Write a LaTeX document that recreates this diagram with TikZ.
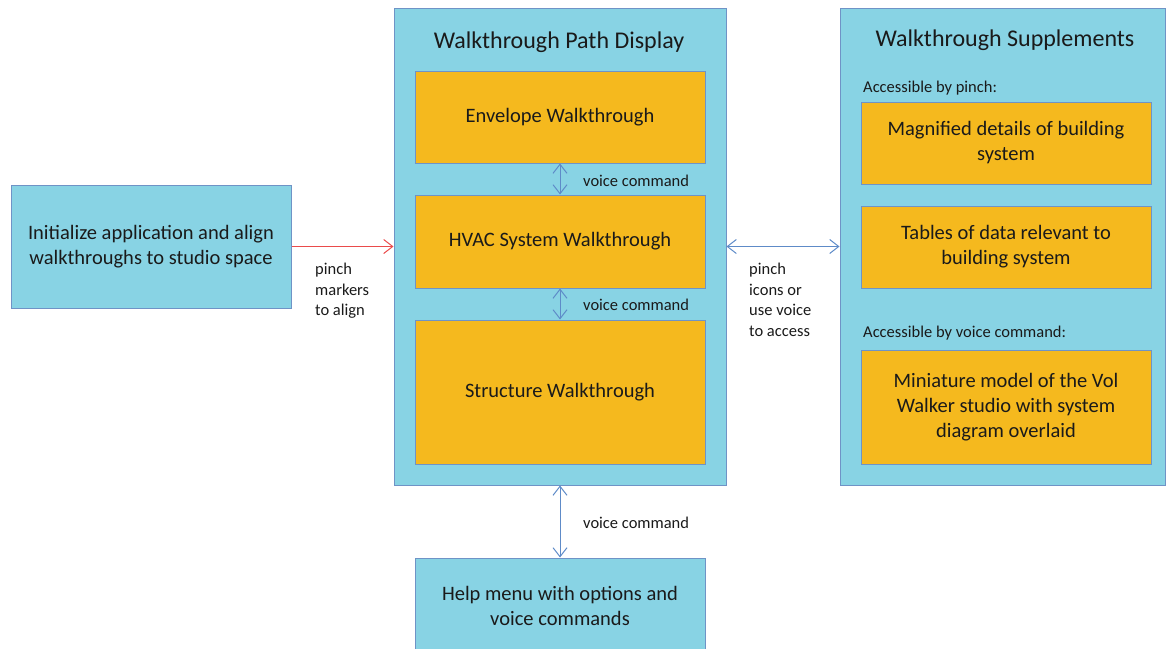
\documentclass[tikz,border=0pt]{standalone}
\usepackage{fontspec}
\setmainfont{Carlito}
\usetikzlibrary{arrows.meta}
\definecolor{lblue}{HTML}{88D3E4}
\definecolor{bborder}{HTML}{6F93C6}
\definecolor{orng}{HTML}{F5B91E}
\definecolor{arrblue}{HTML}{5E8BC8}
\definecolor{arrred}{HTML}{EA4B4B}
\definecolor{txt}{HTML}{1A1A1A}
\tikzset{
  bluebox/.style={draw=bborder, fill=lblue, line width=1pt, rectangle, inner sep=0pt, align=center, text=txt, font=\fontsize{20.5}{25}\selectfont},
  orangebox/.style={draw=bborder, fill=orng, line width=1pt, rectangle, inner sep=0pt, align=center, text=txt, font=\fontsize{20.5}{25}\selectfont},
  lbl/.style={align=left, inner sep=0pt, text=txt, font=\fontsize{16.5}{20.5}\selectfont},
  ttl/.style={inner sep=0pt, text=txt, font=\fontsize{24}{28}\selectfont},
  barrow/.style={draw=arrblue, line width=1pt, {Straight Barb[length=9pt,width=14pt]}-{Straight Barb[length=9pt,width=14pt]}},
  rarrow/.style={draw=arrred, line width=1pt, -{Straight Barb[length=9pt,width=14pt]}}
}
\begin{document}
\begin{tikzpicture}[x=1pt,y=-1pt]
\useasboundingbox (0,0) rectangle (1166,648);
% main containers
\node[bluebox, minimum width=280pt, minimum height=123pt] (init) at (151,246.5) {Initialize application and align\\walkthroughs to studio space};
\node[bluebox, minimum width=332pt, minimum height=477pt] (path) at (560,246.5) {};
\node[bluebox, minimum width=325pt, minimum height=477pt] (supp) at (1002.5,246.5) {};
\node[bluebox, minimum width=290pt, minimum height=96pt] (help) at (560,606) {\raisebox{0pt}{Help menu with options and}\\voice commands};
% titles
\node[ttl] (pathttl) at (559,42) {Walkthrough Path Display};
\node[ttl] (suppttl) at (1005,40) {Walkthrough Supplements};
% walkthroughs
\node[orangebox, minimum width=290pt, minimum height=92pt] (env) at (560,117) {Envelope Walkthrough};
\node[orangebox, minimum width=290pt, minimum height=93pt] (hvac) at (560,241.5) {HVAC System Walkthrough};
\node[orangebox, minimum width=290pt, minimum height=144pt] (struct) at (560,392) {Structure Walkthrough};
% supplements
\node[lbl, anchor=west] (accpinch) at (863,88) {Accessible by pinch:};
\node[orangebox, minimum width=290pt, minimum height=82pt] (mag) at (1006,143) {Magnified details of building\\system};
\node[orangebox, minimum width=290pt, minimum height=82pt] (tab) at (1006,247) {Tables of data relevant to\\building system};
\node[lbl, anchor=west] (accvoice) at (863,333) {Accessible by voice command:};
\node[orangebox, minimum width=290pt, minimum height=114pt] (mini) at (1006,407) {Miniature model of the Vol\\Walker studio with system\\diagram overlaid};
% connectors
\draw[rarrow] (init.east) -- (path.west);
\node[lbl, anchor=north west] (pinchlbl) at (315,263) {pinch\\markers\\to align};
\draw[barrow] (env.south) -- (hvac.north);
\node[lbl, anchor=west] (vc1) at (583,181) {voice command};
\draw[barrow] (hvac.south) -- (struct.north);
\node[lbl, anchor=west] (vc2) at (583,305) {voice command};
\draw[barrow] (path.east) -- (supp.west);
\node[lbl, anchor=north west] (iconlbl) at (749,263) {pinch\\icons or\\use voice\\to access};
\draw[barrow] (path.south) -- (help.north);
\node[lbl, anchor=west] (vc3) at (583,523) {voice command};
\end{tikzpicture}
\end{document}
